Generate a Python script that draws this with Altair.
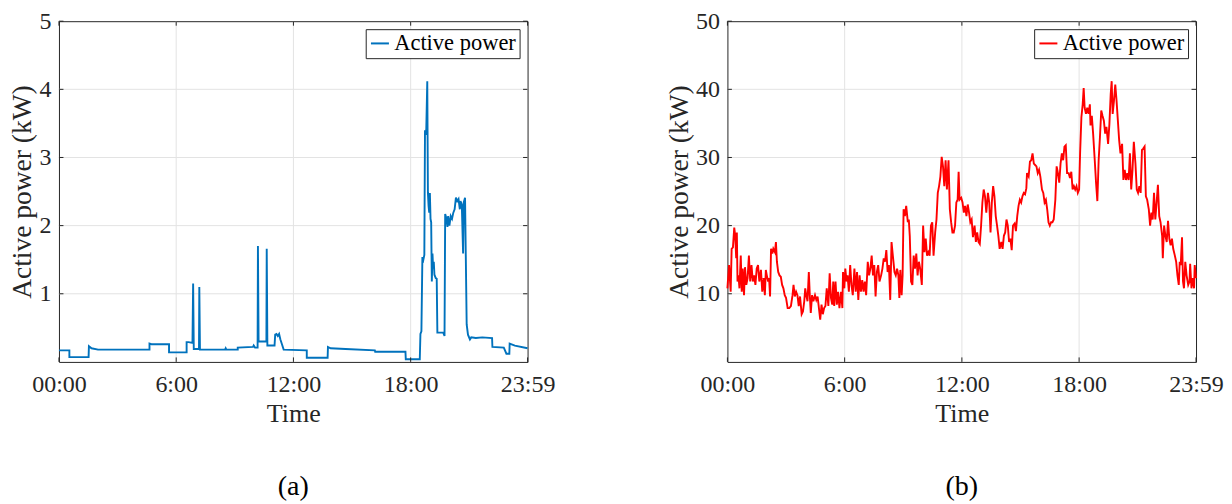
import altair as alt
import pandas as pd

# ---------------- data (minutes after midnight, kW) ----------------
left_min = [0, 32, 32, 91, 92, 100, 120, 278, 278, 284,
            338, 338, 392, 392, 398, 410, 412, 414, 430, 431,
            433, 510, 512, 514, 549, 549, 596, 598, 602, 610,
            611, 613, 637, 638, 640, 662, 664, 668, 672, 676,
            680, 684, 690, 761, 761, 825, 826, 834, 880, 970,
            971, 1064, 1065, 1108, 1110, 1113, 1116, 1119, 1122, 1124,
            1126, 1128, 1131, 1133, 1135, 1137, 1139, 1141, 1143, 1145,
            1147, 1149, 1151, 1153, 1157, 1160, 1162, 1180, 1184, 1186,
            1189, 1193, 1195, 1199, 1203, 1207, 1211, 1215, 1219, 1223,
            1227, 1231, 1233, 1237, 1241, 1243, 1247, 1252, 1256, 1262,
            1266, 1280, 1300, 1330, 1331, 1366, 1374, 1383, 1384, 1400,
            1439]
left_kw = [0.17, 0.17, 0.07, 0.07, 0.23, 0.20, 0.18, 0.18, 0.27, 0.26,
           0.26, 0.14, 0.14, 0.29, 0.29, 0.28, 1.15, 0.19, 0.19, 1.10,
           0.18, 0.18, 0.20, 0.18, 0.18, 0.21, 0.22, 0.24, 0.21, 0.21,
           1.70, 0.30, 0.30, 1.66, 0.24, 0.24, 0.40, 0.41, 0.38, 0.41,
           0.33, 0.27, 0.18, 0.17, 0.06, 0.06, 0.22, 0.20, 0.19, 0.17,
           0.15, 0.15, 0.04, 0.04, 0.41, 0.45, 1.54, 1.50, 1.57, 3.40,
           3.33, 3.42, 4.12, 2.48, 2.29, 2.19, 2.48, 2.10, 2.05, 1.18,
           1.59, 1.37, 1.47, 1.28, 1.23, 1.22, 0.43, 0.43, 0.38, 2.17,
           2.12, 1.98, 2.14, 2.00, 2.14, 2.10, 2.19, 2.24, 2.41, 2.36,
           2.39, 2.24, 2.36, 2.31, 1.59, 2.34, 2.41, 0.55, 0.40, 0.33,
           0.36, 0.35, 0.36, 0.35, 0.22, 0.21, 0.12, 0.12, 0.27, 0.24,
           0.20]

right_min = [0, 5, 10, 13, 17, 21, 24, 27, 29, 31,
             34, 37, 41, 44, 47, 51, 54, 58, 62, 66,
             70, 74, 78, 82, 86, 90, 94, 98, 103, 107,
             111, 115, 118, 121, 125, 128, 131, 134, 138, 141,
             146, 149, 152, 156, 160, 164, 168, 172, 176, 180,
             185, 190, 195, 200, 203, 207, 211, 215, 219, 223,
             228, 232, 236, 239, 242, 246, 250, 253, 256, 260,
             264, 269, 273, 277, 281, 285, 289, 293, 297, 301,
             305, 310, 314, 318, 322, 325, 328, 332, 336, 340,
             344, 349, 353, 355, 359, 362, 366, 369, 373, 377,
             381, 385, 390, 394, 398, 402, 406, 410, 414, 418,
             422, 426, 431, 435, 439, 443, 447, 451, 455, 459,
             463, 467, 472, 476, 480, 484, 488, 492, 496, 500,
             504, 508, 513, 517, 521, 525, 528, 531, 535, 538,
             541, 545, 549, 554, 557, 560, 564, 568, 572, 576,
             580, 584, 588, 592, 597, 601, 605, 609, 613, 617,
             621, 625, 629, 633, 638, 642, 646, 650, 654, 658,
             662, 666, 670, 674, 679, 683, 687, 691, 695, 699,
             703, 707, 710, 713, 718, 722, 726, 730, 734, 738,
             742, 746, 750, 754, 759, 763, 767, 771, 775, 779,
             783, 787, 791, 795, 800, 804, 808, 812, 816, 820,
             824, 828, 832, 836, 841, 845, 849, 853, 857, 861,
             865, 869, 873, 877, 882, 886, 890, 894, 898, 902,
             906, 910, 914, 918, 920, 925, 929, 933, 937, 941,
             945, 949, 953, 957, 961, 966, 970, 974, 978, 982,
             986, 990, 994, 998, 1002, 1007, 1011, 1015, 1019, 1023,
             1027, 1031, 1035, 1039, 1043, 1048, 1052, 1056, 1060, 1064,
             1068, 1072, 1076, 1080, 1083, 1087, 1091, 1094, 1097, 1101,
             1105, 1109, 1113, 1115, 1119, 1123, 1128, 1132, 1136, 1140,
             1144, 1148, 1152, 1156, 1160, 1164, 1169, 1173, 1177, 1180,
             1183, 1187, 1191, 1195, 1199, 1203, 1207, 1212, 1216, 1220,
             1224, 1228, 1232, 1236, 1240, 1244, 1248, 1253, 1257, 1261,
             1265, 1269, 1273, 1277, 1281, 1285, 1289, 1294, 1298, 1302,
             1306, 1310, 1314, 1318, 1322, 1326, 1330, 1335, 1337, 1341,
             1345, 1349, 1353, 1357, 1361, 1365, 1369, 1374, 1378, 1382,
             1386, 1389, 1392, 1396, 1399, 1402, 1406, 1410, 1415, 1419,
             1421, 1425, 1429, 1433, 1435, 1439]
right_kw = [10.8, 14.2, 10.3, 16.6, 16.8, 19.7, 18.5, 15.2, 19.0, 11.8,
            12.7, 10.8, 15.6, 10.3, 13.7, 9.8, 13.9, 11.3, 12.3, 15.6,
            11.8, 14.2, 11.8, 12.7, 11.3, 13.7, 14.2, 11.8, 13.5, 10.3,
            12.3, 9.8, 13.5, 12.7, 11.8, 12.3, 9.6, 16.6, 15.9, 16.6,
            16.1, 17.6, 14.7, 13.2, 12.7, 12.5, 11.3, 10.8, 9.8, 9.4,
            7.9, 7.9, 8.2, 9.8, 11.3, 9.6, 10.3, 9.8, 8.2, 9.6,
            7.0, 7.4, 8.9, 10.8, 9.8, 8.9, 13.2, 9.8, 7.2, 9.8,
            8.9, 9.8, 9.1, 9.6, 7.9, 6.2, 8.4, 7.0, 7.9, 8.2,
            10.8, 8.2, 13.0, 9.4, 8.4, 11.8, 8.2, 11.8, 8.4, 10.3,
            7.9, 10.3, 7.9, 13.2, 10.8, 13.7, 11.8, 12.7, 10.3, 14.2,
            11.3, 9.8, 13.7, 10.3, 13.2, 9.1, 12.7, 10.3, 12.0, 10.3,
            11.8, 9.8, 14.7, 12.7, 13.7, 15.6, 12.7, 14.2, 9.6, 13.2,
            14.2, 11.8, 12.7, 13.7, 15.2, 14.7, 16.4, 13.2, 14.2, 9.1,
            17.6, 15.6, 13.2, 12.7, 13.7, 12.7, 9.4, 13.5, 9.8, 12.7,
            22.4, 21.4, 22.9, 20.5, 20.9, 18.5, 11.8, 11.3, 15.6, 13.7,
            15.9, 12.7, 14.7, 13.7, 11.3, 20.0, 16.1, 18.1, 15.6, 16.1,
            15.6, 20.0, 20.5, 15.6, 19.0, 20.9, 24.8, 25.8, 27.2, 30.1,
            28.7, 25.8, 29.6, 25.3, 29.6, 22.4, 20.5, 19.0, 19.0, 20.0,
            23.4, 23.8, 27.9, 23.8, 24.1, 23.4, 21.9, 22.9, 21.4, 23.1,
            21.9, 20.5, 20.9, 18.3, 20.0, 17.6, 19.0, 17.6, 17.3, 20.0,
            23.4, 25.3, 24.3, 21.9, 24.8, 23.4, 19.0, 23.4, 25.8, 24.3,
            21.4, 20.0, 18.5, 16.6, 17.6, 16.6, 18.5, 19.0, 20.9, 20.0,
            17.6, 18.1, 16.4, 20.0, 20.3, 19.2, 21.4, 22.9, 23.8, 23.4,
            24.3, 24.8, 24.6, 25.5, 27.7, 27.2, 29.4, 29.6, 30.6, 29.1,
            28.9, 28.7, 27.7, 28.2, 27.2, 25.3, 24.8, 23.4, 23.8, 22.4,
            20.5, 20.0, 20.5, 20.5, 20.9, 23.8, 28.7, 27.7, 26.3, 29.1,
            30.6, 29.6, 31.6, 31.8, 27.7, 27.7, 27.0, 27.9, 25.3, 25.8,
            25.3, 25.8, 24.8, 25.3, 30.6, 35.9, 37.8, 40.2, 37.3, 36.4,
            37.3, 36.4, 37.8, 34.7, 36.1, 33.5, 29.6, 26.3, 23.6, 29.6,
            33.0, 36.9, 36.1, 35.4, 33.5, 34.5, 32.0, 34.9, 39.3, 41.2,
            36.4, 38.3, 40.7, 38.3, 35.4, 32.5, 30.6, 32.0, 26.7, 28.2,
            26.7, 27.7, 26.7, 30.6, 25.3, 28.2, 32.3, 29.1, 25.3, 24.8,
            25.8, 24.8, 31.1, 31.3, 31.6, 24.3, 23.8, 22.4, 20.0, 21.9,
            20.9, 24.8, 20.9, 23.4, 26.0, 21.4, 20.5, 18.5, 15.2, 20.0,
            18.5, 17.6, 20.7, 18.1, 17.1, 18.1, 16.6, 15.6, 14.7, 12.7,
            11.3, 14.7, 14.2, 18.3, 11.8, 10.8, 14.7, 12.7, 11.3, 11.8,
            14.4, 10.8, 12.3, 10.8, 14.2, 12.3]

tick_minutes = [0, 360, 720, 1080, 1439]
tick_labels = ["00:00", "6:00", "12:00", "18:00", "23:59"]
left_yticks = [1, 2, 3, 4, 5]
right_yticks = [10, 20, 30, 40, 50]
series_name = "Active power"
captions = ["(a)", "(b)"]

# ---------------- styling ----------------
W, H = 469, 341
FONT = "Liberation Serif"
AX = "#262626"
GRID = "#e3e3e3"
TICK = 4.5


def panel(minutes, values, color, ymax, yticks, caption):
    df = pd.DataFrame({"minute": minutes, "kw": values,
                       "idx": list(range(len(minutes))),
                       "series": [series_name] * len(minutes)})
    xs = alt.Scale(domain=[0, 1439], nice=False, zero=False)
    ys = alt.Scale(domain=[0, ymax], nice=False, zero=True)
    label_expr = " : ".join(
        f"datum.value == {m} ? '{l}'" for m, l in zip(tick_minutes, tick_labels)
    ) + " : ''"
    xaxis = alt.Axis(values=tick_minutes, labelExpr=label_expr, title="Time",
                     grid=False, ticks=False, domain=False,
                     labelFont=FONT, labelFontSize=24, labelColor=AX,
                     labelPadding=11, labelFlush=False, labelOverlap=False,
                     titleFont=FONT, titleFontSize=26, titleFontWeight="normal",
                     titleColor=AX, titlePadding=4)
    yaxis = alt.Axis(values=yticks, title="Active power (kW)",
                     grid=False, ticks=False, domain=False,
                     labelFont=FONT, labelFontSize=24, labelColor=AX,
                     labelPadding=8, labelOverlap=False,
                     titleFont=FONT, titleFontSize=27.5, titleFontWeight="normal",
                     titleColor=AX, titlePadding=2)
    X = alt.X("minute:Q", scale=xs, axis=xaxis)
    Y = alt.Y("kw:Q", scale=ys, axis=yaxis)

    gx = pd.DataFrame({"minute": tick_minutes[1:-1]})
    gy = pd.DataFrame({"kw": yticks[:-1]})
    tx = pd.DataFrame({"minute": tick_minutes})
    ty = pd.DataFrame({"kw": yticks})

    grid_x = alt.Chart(gx).mark_rule(color=GRID, strokeWidth=1).encode(x=X)
    grid_y = alt.Chart(gy).mark_rule(color=GRID, strokeWidth=1).encode(y=Y)
    line = alt.Chart(df).mark_line(strokeWidth=1.9).encode(
        x=X, y=Y,
        order=alt.Order("idx:Q"),
        color=alt.Color("series:N",
                        scale=alt.Scale(domain=[series_name], range=[color]),
                        legend=alt.Legend(title=None, orient="top-right", offset=8,
                                          padding=3, fillColor="white",
                                          strokeColor=AX, cornerRadius=0,
                                          symbolType="stroke", symbolSize=324,
                                          symbolStrokeWidth=2, labelOffset=3,
                                          labelFont=FONT, labelFontSize=22.5,
                                          labelColor="black")),
    )
    bot = alt.Chart(tx).mark_rule(color=AX, strokeWidth=1).encode(
        x=X, y=alt.value(H), y2=alt.value(H - TICK))
    top = alt.Chart(tx).mark_rule(color=AX, strokeWidth=1).encode(
        x=X, y=alt.value(0), y2=alt.value(TICK))
    lft = alt.Chart(ty).mark_rule(color=AX, strokeWidth=1).encode(
        y=Y, x=alt.value(0), x2=alt.value(TICK))
    rgt = alt.Chart(ty).mark_rule(color=AX, strokeWidth=1).encode(
        y=Y, x=alt.value(W - TICK), x2=alt.value(W))

    return alt.layer(grid_x, grid_y, line, bot, top, lft, rgt).properties(
        width=W, height=H,
        title=alt.TitleParams(caption, orient="bottom", anchor="middle",
                              frame="group", offset=46, font=FONT,
                              fontSize=28, fontWeight="normal", color="black"))


left = panel(left_min, left_kw, "#0072BD", 5, left_yticks, captions[0])
right = panel(right_min, right_kw, "#FF0000", 50, right_yticks, captions[1])

chart = alt.hconcat(left, right, spacing=200, bounds="flush").resolve_scale(
    color="independent", x="independent", y="independent"
).resolve_legend(color="independent").configure_view(
    stroke=AX, strokeWidth=1
).properties(padding={"left": 0, "top": 0, "right": 0, "bottom": 0})

chart.save("out.html", embed_options={"renderer": "svg", "actions": False})
